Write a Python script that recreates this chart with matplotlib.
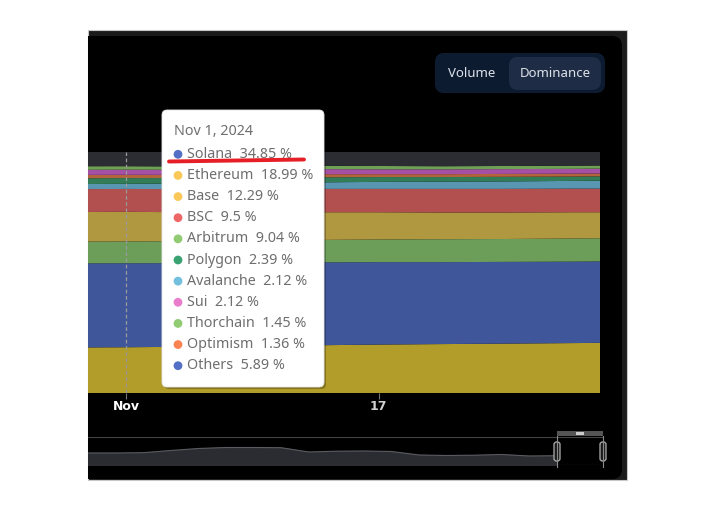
import matplotlib
matplotlib.use("Agg")
import matplotlib.pyplot as plt
import matplotlib.dates as mdates
from matplotlib.patches import FancyBboxPatch, Rectangle
from datetime import datetime

# data: daily dominance (%) for each chain
dates = ["2024-10-29", "2024-11-01", "2024-11-05", "2024-11-09", "2024-11-13",
         "2024-11-17", "2024-11-21", "2024-11-25", "2024-11-29", "2024-12-01"]
ethereum = [18.9, 18.99, 19.2, 19.5, 19.8, 20.1, 20.3, 20.5, 20.7, 20.8]
solana = [34.9, 34.85, 34.7, 34.6, 34.4, 34.2, 34.0, 33.9, 33.8, 33.8]
arbitrum = [9.0, 9.04, 9.1, 9.2, 9.3, 9.4, 9.5, 9.5, 9.6, 9.6]
base = [12.3, 12.29, 12.0, 11.8, 11.5, 11.3, 11.1, 11.0, 10.9, 10.8]
bsc = [9.5, 9.5, 9.6, 9.6, 9.7, 9.7, 9.8, 9.8, 9.8, 9.8]
avalanche = [2.1, 2.12, 2.3, 2.5, 2.7, 2.9, 3.0, 3.1, 3.2, 3.3]
polygon = [2.4, 2.39, 2.3, 2.2, 2.1, 2.0, 1.9, 1.9, 1.8, 1.8]
optimism = [1.4, 1.36, 1.3, 1.3, 1.3, 1.2, 1.2, 1.2, 1.2, 1.2]
sui = [2.1, 2.12, 2.1, 2.1, 2.1, 2.0, 2.0, 2.0, 2.0, 2.0]
thorchain = [1.5, 1.45, 1.4, 1.4, 1.4, 1.4, 1.3, 1.3, 1.3, 1.3]
others = [5.9, 5.89, 6.0, 5.8, 5.7, 5.8, 5.9, 5.8, 5.7, 5.6]

# tooltip for Nov 1
tip_date = "Nov 1, 2024"
tip_names = ["Solana", "Ethereum", "Base", "BSC", "Arbitrum", "Polygon",
             "Avalanche", "Sui", "Thorchain", "Optimism", "Others"]
tip_values = ["34.85", "18.99", "12.29", "9.5", "9.04", "2.39",
              "2.12", "2.12", "1.45", "1.36", "5.89"]
tip_dots = ["#5470c6", "#fac858", "#fac858", "#ee6666", "#91cc75", "#3ba272",
            "#73c0de", "#ea7ccc", "#91cc75", "#fc8452", "#5470c6"]

tick_dates = ["2024-11-01", "2024-11-17"]
tick_labels = ["Nov", "17"]

# navigator (overview) profile
nav_vals = [12, 12, 12.3, 14.5, 16.5, 17.5, 17.5, 17.3, 13, 13.8,
            14, 13.5, 10, 9.5, 9.8, 10.5, 9, 9.3]

x = [datetime.strptime(d, "%Y-%m-%d") for d in dates]
stack = [ethereum, solana, arbitrum, base, bsc, avalanche, polygon,
         optimism, sui, thorchain, others]
colors = ["#b29c2a", "#40569a", "#6c9e5a", "#b09840", "#b25050", "#5896b2",
          "#327d58", "#b4643c", "#a550a5", "#6ea055", "#2b2d33"]

W, H = 717, 517
fig = plt.figure(figsize=(W / 100, H / 100), dpi=100)
fig.patch.set_facecolor("white")

# background panel in pixel coords
bg = fig.add_axes([0, 0, 1, 1], zorder=0)
bg.set_xlim(0, W)
bg.set_ylim(H, 0)
bg.axis("off")
bg.add_patch(Rectangle((88, 30), 539, 450, facecolor="#1b1b1b",
                       edgecolor="#c8c8c8", linewidth=0.8))
bg.add_patch(FancyBboxPatch((88, 36), 534, 443, boxstyle="round,pad=0,rounding_size=10",
                            facecolor="black", edgecolor="none"))
bg.add_patch(Rectangle((88, 36), 500, 443, facecolor="black", edgecolor="none"))

# main stacked area
ax = fig.add_axes([88 / W, 1 - 393 / H, 512 / W, 241 / H], zorder=1)
ax.set_facecolor("none")
ax.stackplot(x, *stack, colors=colors, linewidth=0)
nov1 = mdates.date2num(datetime(2024, 11, 1))
ax.set_xlim(nov1 - 2.4, nov1 + 30)
ax.set_ylim(0, 100)
for s in ax.spines.values():
    s.set_visible(False)
ax.set_yticks([])
tk = [datetime.strptime(d, "%Y-%m-%d") for d in tick_dates]
ax.set_xticks(tk)
ax.set_xticklabels(tick_labels)
ax.tick_params(axis="x", colors="#777777", length=4, width=0.8, pad=1)
for lbl, c in zip(ax.get_xticklabels(), ["white", "#d0d0d0"]):
    lbl.set_color(c)
    lbl.set_fontweight("bold")
    lbl.set_fontsize(9)
ax.axvline(tk[0], color="#9a9a9a", linestyle=(0, (3, 2)), linewidth=0.9)

# navigator
nav = fig.add_axes([88 / W, 1 - 465 / H, 515 / W, 28.3 / H], zorder=1)
nav.set_facecolor("none")
nav.fill_between(range(len(nav_vals)), nav_vals, 0, color="#2b2c31")
nav.plot(range(len(nav_vals)), nav_vals, color="#5a5b60", linewidth=0.8)
nav.set_xlim(0, (len(nav_vals) - 1) * 515 / 469)
nav.set_ylim(0, 28.3)
nav.axis("off")
nav.axhline(28.3, color="#444444", linewidth=0.8)
nav.axhline(0, color="#555555", linewidth=0.8)

# overlay: tooltip, buttons, zoom handles
ov = fig.add_axes([0, 0, 1, 1], zorder=3)
ov.set_xlim(0, W)
ov.set_ylim(H, 0)
ov.axis("off")
ov.patch.set_alpha(0)

# zoom window handles
ov.add_patch(Rectangle((557, 431), 46, 5, facecolor="#555555", edgecolor="none"))
ov.add_patch(Rectangle((576, 432.3), 8, 2.4, facecolor="#cccccc", edgecolor="none"))
for hx in [557, 603]:
    ov.plot([hx, hx], [436, 467], color="#8a8a8a", linewidth=0.8)
    ov.add_patch(FancyBboxPatch((hx - 3, 442), 6, 19, boxstyle="round,pad=0,rounding_size=2.5",
                                facecolor="#1a1a1a", edgecolor="#b0b0b0", linewidth=0.9))

# buttons
ov.add_patch(FancyBboxPatch((435, 53), 170, 40, boxstyle="round,pad=0,rounding_size=9",
                            facecolor="#0d1b30", edgecolor="none"))
ov.add_patch(FancyBboxPatch((509, 57), 92, 33, boxstyle="round,pad=0,rounding_size=9",
                            facecolor="#1e2d45", edgecolor="none"))
ov.text(472, 73.5, "Volume", color="#dde2ea", fontsize=9.5, fontweight="semibold",
        ha="center", va="center", family="Noto Sans")
ov.text(555, 73.5, "Dominance", color="#dde2ea", fontsize=9.5, fontweight="semibold",
        ha="center", va="center", family="Noto Sans")

# tooltip
ov.add_patch(FancyBboxPatch((164, 112), 162, 277, boxstyle="round,pad=0,rounding_size=5",
                            facecolor="#000000", alpha=0.25, edgecolor="none"))
ov.add_patch(FancyBboxPatch((162, 110), 162, 277, boxstyle="round,pad=0,rounding_size=5",
                            facecolor="white", edgecolor="#e6e6e6", linewidth=0.6))
ov.text(174, 131.5, tip_date, color="#6e6e6e", fontsize=10.3, va="center",
        family="Noto Sans")
for i, (n, v, c) in enumerate(zip(tip_names, tip_values, tip_dots)):
    yy = 154.3 + i * 21.14
    ov.scatter([178], [yy], s=40, color=c, edgecolors="none", zorder=4)
    ov.text(187, yy, n + "  " + v + " %", color="#6e6e6e", fontsize=10.3,
            va="center", family="Noto Sans")

# red underline
ov.plot([169, 304], [161.5, 159.5], color="#e61e25", linewidth=2.8,
        solid_capstyle="round", zorder=5)

fig.savefig("out.png", dpi=100, facecolor="white")
